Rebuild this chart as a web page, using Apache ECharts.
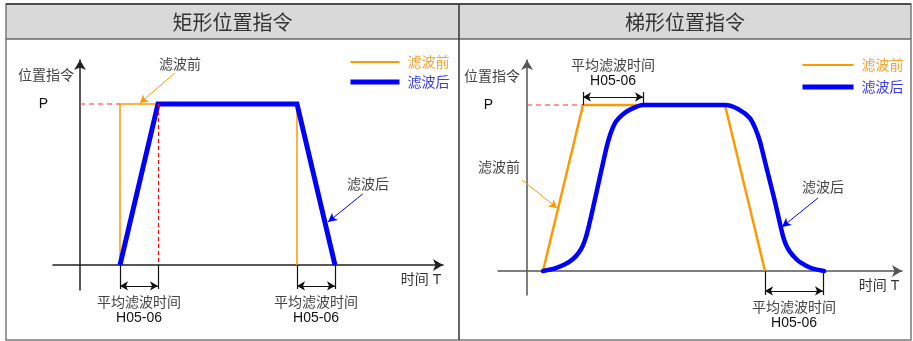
<!DOCTYPE html>
<html>
<head>
<meta charset="utf-8">
<script src="https://cdn.jsdelivr.net/npm/echarts@6/dist/echarts.min.js"></script>
<style>html,body{margin:0;padding:0;background:#fff}#main{width:913px;height:341px}</style>
</head>
<body>
<div id="main"></div>
<script>
var chartDom = document.getElementById('main');
var myChart = echarts.init(chartDom);
var option;

// 矩形位置指令 (时间, 位置/P)
var rectBefore = [[40, 0], [40, 1], [217, 1], [217, 0]];
var rectAfter = [[40, 0], [78, 1], [217, 1], [255, 0]];
// 梯形位置指令
var trapBefore = [[16, 0], [56, 1], [198, 1], [238, 0]];
var trapAfter = [
    [16, 0], [28, 0.016], [38, 0.04], [46, 0.072], [52, 0.112], [56, 0.155],
    [59, 0.205], [62, 0.275], [66, 0.38], [71, 0.515], [76, 0.65], [80, 0.755],
    [84, 0.835], [89, 0.9], [96, 0.945], [105, 0.978], [116, 1],
    [198, 1], [211, 0.976], [223, 0.92], [229, 0.849], [233, 0.779], [238, 0.658],
    [243, 0.538], [248, 0.417], [253, 0.285], [256, 0.21], [259, 0.158],
    [263, 0.115], [268, 0.08], [273, 0.053], [284, 0.018], [297, 0]
];
var levelTicks = [1];
var levelLabels = ['P'];
var seriesNames = ['滤波前', '滤波后'];
var windowText = ['平均滤波时间', 'H05-06'];

var ORANGE = '#ff9900';
var BLUE = '#0000ff';
var cjk = '"Noto Sans CJK SC", sans-serif';
var latin = '"Liberation Sans", Arial, sans-serif';

var windowRich = {
    a: { fontFamily: cjk, fontSize: 14, color: '#444', lineHeight: 17 },
    b: { fontFamily: latin, fontSize: 14, color: '#111', lineHeight: 17 }
};

function seg(p0, p1, style, s0, s1, label) {
    return [
        { coord: p0, symbol: s0 || 'none', lineStyle: style, label: label || { show: false } },
        { coord: p1, symbol: s1 || 'none' }
    ];
}

// 平均滤波时间 标注
function bracket(x0, x1, yEdge, yArrow, pos) {
    var black = { color: '#111', width: 1.2, type: 'solid' };
    return [
        seg([x0, pos === 'top' ? 1 : 0], [x0, yEdge], black),
        seg([x1, pos === 'top' ? 1 : 0], [x1, yEdge], black),
        seg([x0, yArrow], [x1, yArrow], black, 'arrow', 'arrow', {
            show: true,
            position: pos === 'top' ? 'insideMiddleTop' : 'insideMiddleBottom',
            distance: 7,
            formatter: '{a|' + windowText[0] + '}\n{b|' + windowText[1] + '}',
            rich: windowRich
        })
    ];
}

function pointer(p0, p1, color) {
    return seg(p0, p1, { color: color, width: 1, type: 'solid' }, 'none', 'arrow');
}

function axes(gi, xr, yr, axisColor) {
    var line = {
        onZero: true,
        symbol: ['none', 'arrow'],
        symbolSize: [9, 10],
        lineStyle: { color: axisColor, width: 1.5 }
    };
    return {
        x: {
            gridIndex: gi, type: 'value', min: xr[0], max: xr[1],
            axisLine: line, axisTick: { show: false }, axisLabel: { show: false }, splitLine: { show: false }
        },
        y: {
            gridIndex: gi, type: 'value', min: yr[0], max: yr[1],
            axisLine: line, axisTick: { show: false }, splitLine: { show: false },
            axisLabel: {
                show: true, customValues: levelTicks, margin: 5,
                formatter: function (v) { return levelLabels[levelTicks.indexOf(v)]; },
                color: '#111', fontSize: 14, fontFamily: latin
            }
        }
    };
}

var a0 = axes(0, [-27, 363], [-0.1553, 1.2733], '#222');
var a1 = axes(1, [-29, 375], [-0.1446, 1.2711], '#555');

function txt(x, y, text, size, color, font) {
    return {
        type: 'text', x: x, y: y, z: 10,
        style: {
            text: text, fill: color, font: size + 'px ' + (font || cjk),
            align: 'center', verticalAlign: 'middle'
        }
    };
}

function legendFor(left, top, gap, w) {
    return {
        left: left, top: top, orient: 'vertical', padding: 0,
        itemWidth: w, itemHeight: 14, itemGap: gap,
        selectedMode: false,
        itemStyle: { opacity: 0 },
        textStyle: { fontSize: 14, fontFamily: cjk, padding: [0, 0, 0, 3] },
        data: [
            { name: seriesNames[0], lineStyle: { width: 2 }, textStyle: { color: '#f7a12e' } },
            { name: seriesNames[1], lineStyle: { width: 5 }, textStyle: { color: '#3b3bef' } }
        ]
    };
}

option = {
    animation: false,
    grid: [
        { left: 53, top: 60, width: 390, height: 230, outerBoundsMode: 'none' },
        { left: 498, top: 60, width: 404, height: 235, outerBoundsMode: 'none' }
    ],
    xAxis: [a0.x, a1.x],
    yAxis: [a0.y, a1.y],
    legend: [legendFor(348, 55, 6, 49), legendFor(800, 58, 8, 51)],
    graphic: [
        { type: 'rect', shape: { x: 6, y: 4, width: 905, height: 35 }, style: { fill: '#d9d9d9' } },
        { type: 'rect', shape: { x: 6, y: 4, width: 905, height: 336 }, style: { fill: null, stroke: '#7a7a7a', lineWidth: 1.5 } },
        { type: 'line', shape: { x1: 6, y1: 4, x2: 911, y2: 4 }, style: { stroke: '#4d4d4d', lineWidth: 2 } },
        { type: 'line', shape: { x1: 6, y1: 39, x2: 911, y2: 39 }, style: { stroke: '#666', lineWidth: 1.5 } },
        { type: 'line', shape: { x1: 459, y1: 4, x2: 459, y2: 340 }, style: { stroke: '#333', lineWidth: 1.5 } },
        txt(232.5, 22, '矩形位置指令', 20, '#333'),
        txt(685, 22, '梯形位置指令', 20, '#333'),
        txt(46, 75, '位置指令', 14, '#444'),
        txt(492, 76, '位置指令', 14, '#444'),
        txt(180, 64, '滤波前', 14, '#444'),
        txt(368, 184, '滤波后', 14, '#444'),
        txt(499, 167, '滤波前', 14, '#444'),
        txt(823, 187, '滤波后', 14, '#444'),
        txt(421, 280, '时间 T', 14, '#333', latin + ', ' + cjk),
        txt(879, 286, '时间 T', 14, '#333', latin + ', ' + cjk)
    ],
    series: [
        {
            type: 'line', name: seriesNames[0], xAxisIndex: 0, yAxisIndex: 0,
            data: rectBefore, symbol: 'none', itemStyle: { color: ORANGE },
            lineStyle: { color: ORANGE, width: 1.5, join: 'miter' },
            markLine: {
                silent: true, symbol: ['none', 'none'], symbolSize: [7, 8], label: { show: false },
                data: [
                    seg([0, 1], [rectBefore[1][0], 1], { color: 'rgba(255,70,70,0.75)', width: 1.5, type: [5, 4] }),
                    seg([rectAfter[1][0], 1], [rectAfter[1][0], 0], { color: '#ff0000', width: 1.2, type: [4, 3] }),
                    pointer([95, 1.193], [60, 1.006], ORANGE)
                ].concat(
                    bracket(rectBefore[0][0], rectAfter[1][0], -0.149, -0.13, 'bottom'),
                    bracket(rectBefore[3][0], rectAfter[3][0], -0.149, -0.13, 'bottom')
                )
            }
        },
        {
            type: 'line', name: seriesNames[1], xAxisIndex: 0, yAxisIndex: 0,
            data: rectAfter, symbol: 'none', itemStyle: { color: BLUE },
            lineStyle: { color: BLUE, width: 5, join: 'miter' },
            markLine: {
                silent: true, symbol: ['none', 'none'], symbolSize: [7, 9], label: { show: false },
                data: [pointer([282.7, 0.441], [248, 0.267], BLUE)]
            }
        },
        {
            type: 'line', name: seriesNames[0], xAxisIndex: 1, yAxisIndex: 1,
            data: trapBefore, symbol: 'none', itemStyle: { color: ORANGE },
            lineStyle: { color: ORANGE, width: 2.5 },
            markLine: {
                silent: true, symbol: ['none', 'none'], symbolSize: [7, 8], label: { show: false },
                data: [
                    seg([0, 1], [trapBefore[1][0], 1], { color: 'rgba(255,70,70,0.75)', width: 1.5, type: [5, 4] }),
                    pointer([-5, 0.548], [30, 0.38], ORANGE)
                ].concat(
                    bracket(trapBefore[1][0], 116, 1.078, 1.048, 'top'),
                    bracket(trapBefore[3][0], 296, -0.1446, -0.12, 'bottom')
                )
            }
        },
        {
            type: 'line', name: seriesNames[1], xAxisIndex: 1, yAxisIndex: 1,
            data: trapAfter, symbol: 'none', smooth: 0.25, itemStyle: { color: BLUE },
            lineStyle: { color: BLUE, width: 4.5, cap: 'round' },
            markLine: {
                silent: true, symbol: ['none', 'none'], symbolSize: [7, 9], label: { show: false },
                data: [pointer([291, 0.44], [255, 0.265], BLUE)]
            }
        }
    ]
};

option && myChart.setOption(option);
</script>
</body>
</html>
